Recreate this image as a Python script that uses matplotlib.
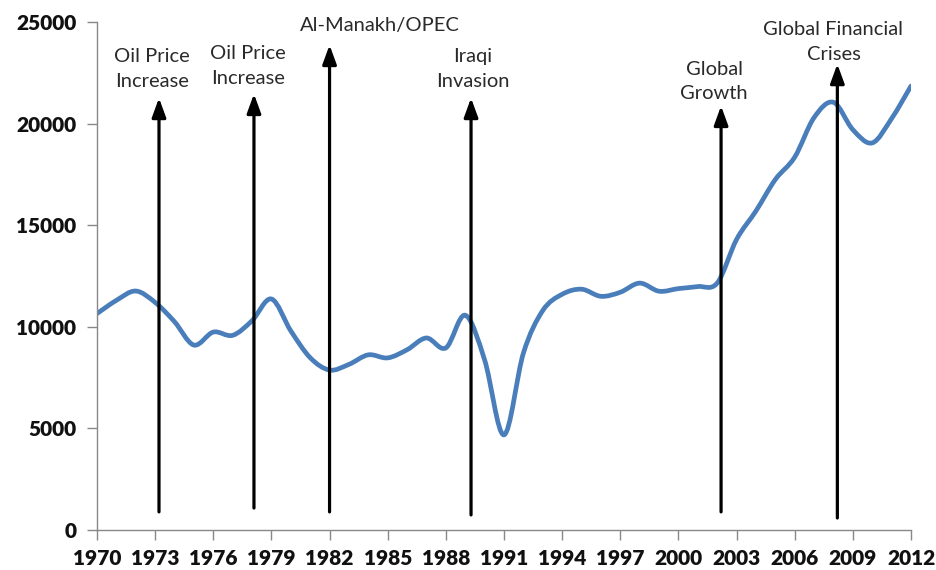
import numpy as np
import matplotlib
matplotlib.use("Agg")
import matplotlib.pyplot as plt
from matplotlib.path import Path
from matplotlib.patches import PathPatch

# yearly values
years = list(range(1970, 2013))
values = [10650, 11300, 11760, 11200, 10250, 9100, 9740, 9580, 10300, 11370,
          9800, 8480, 7870, 8150, 8620, 8470, 8870, 9450, 8960, 10570,
          8370, 4680, 8700, 10800, 11600, 11850, 11500, 11700, 12150, 11750,
          11880, 11980, 12150, 14300, 15700, 17250, 18350, 20300, 21050, 19700,
          19050, 20250, 21850]

# event arrows: x position, bottom, top, label
event_x = [1973.2, 1978.1, 1982.0, 1989.3, 2002.2, 2008.2]
event_bottom = [890, 1080, 890, 740, 890, 590]
event_top = [21260, 21460, 23870, 21260, 20870, 22930]
event_labels = ["Oil Price\nIncrease", "Oil Price\nIncrease", "Al-Manakh/OPEC",
                "Iraqi\nInvasion", "Global\nGrowth", "Global Financial\nCrises"]
label_x = [1972.85, 1977.8, 1984.6, 1989.4, 2001.85, 2008.0]
label_y = [21650, 21800, 24400, 21650, 21050, 23000]

fig = plt.figure(figsize=(9.36, 5.7), dpi=100)
ax = fig.add_axes([0.1036, 0.0702, 0.8697, 0.8912])

# smooth line like excel (catmull-rom bezier)
x = np.array(years, dtype=float)
y = np.array(values, dtype=float)
verts = [(x[0], y[0])]
codes = [Path.MOVETO]
n = len(x)
for i in range(n - 1):
    p0 = np.array([x[max(i - 1, 0)], y[max(i - 1, 0)]])
    p1 = np.array([x[i], y[i]])
    p2 = np.array([x[i + 1], y[i + 1]])
    p3 = np.array([x[min(i + 2, n - 1)], y[min(i + 2, n - 1)]])
    c1 = p1 + (p2 - p0) / 6
    c2 = p2 - (p3 - p1) / 6
    verts += [tuple(c1), tuple(c2), tuple(p2)]
    codes += [Path.CURVE4] * 3
ax.add_patch(PathPatch(Path(verts, codes), fill=False, edgecolor="#4A7EBB",
                       lw=3.4, capstyle="round", joinstyle="round", zorder=2))

for i in range(len(event_x)):
    ax.annotate("", xy=(event_x[i], event_top[i]), xytext=(event_x[i], event_bottom[i]),
                arrowprops=dict(arrowstyle="-|>,head_length=1.15,head_width=0.42",
                                color="black", lw=2.3, shrinkA=0, shrinkB=0,
                                mutation_scale=10),
                zorder=3)
    ax.text(label_x[i], label_y[i], event_labels[i], ha="center", va="bottom",
            fontsize=14.5, family=["Lato", "DejaVu Sans"], color="#2a2a2a",
            linespacing=1.55)

ax.set_xlim(1970, 2012)
ax.set_ylim(0, 25000)
ax.set_xticks(range(1970, 2013, 3))
ax.set_yticks(range(0, 25001, 5000))
for sp in ["top", "right"]:
    ax.spines[sp].set_visible(False)
for sp in ["left", "bottom"]:
    ax.spines[sp].set_color("#888888")
    ax.spines[sp].set_linewidth(1)
ax.tick_params(axis="both", direction="out", length=7, color="#888888", width=1)
ax.tick_params(axis="x", pad=7)
ax.tick_params(axis="y", pad=8)
for lab in ax.get_xticklabels() + ax.get_yticklabels():
    lab.set_family(["Lato", "DejaVu Sans"])
    lab.set_fontweight("heavy")
    lab.set_fontsize(15)
    lab.set_color("#111111")
ax.patch.set_visible(False)

fig.savefig("out.png", dpi=100)
